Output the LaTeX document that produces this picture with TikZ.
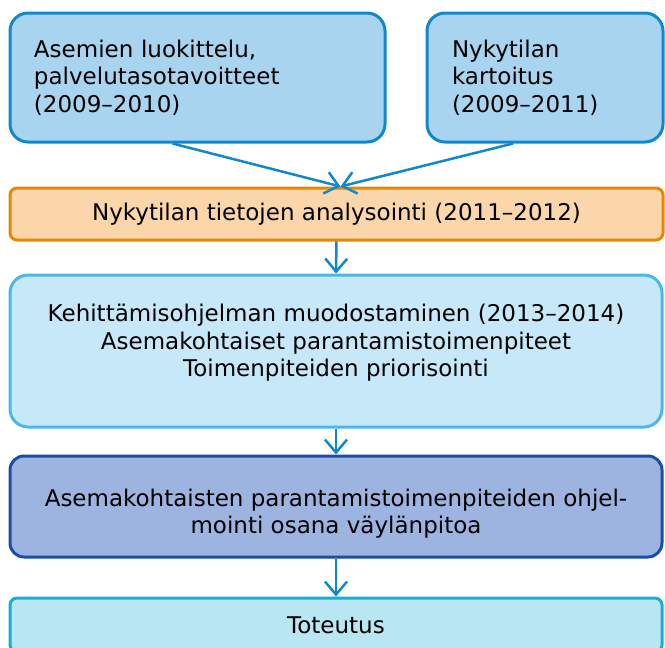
\documentclass[tikz,border=0pt]{standalone}
\usepackage{fontspec}
\setmainfont{DejaVu Sans}
\usepackage{xcolor}
\usetikzlibrary{arrows.meta, positioning, calc}
\definecolor{topfill}{RGB}{168,212,240}
\definecolor{topline}{RGB}{16,136,206}
\definecolor{orfill}{RGB}{250,214,170}
\definecolor{orline}{RGB}{232,136,0}
\definecolor{kefill}{RGB}{198,232,248}
\definecolor{keline}{RGB}{74,184,232}
\definecolor{ohfill}{RGB}{158,180,224}
\definecolor{ohline}{RGB}{24,78,168}
\definecolor{tofill}{RGB}{184,230,242}
\definecolor{toline}{RGB}{20,176,208}
\tikzset{
    box/.style={draw, line width=3pt, rounded corners=18pt, inner sep=0pt,
        font=\fontsize{23}{27.5}\selectfont},
    flatbox/.style={box, rounded corners=7pt},
    flow/.style={-{Straight Barb[length=13pt, width=22pt, line width=2.5pt]},
        line width=2.5pt, topline}
}
\begin{document}
\begin{tikzpicture}[x=1pt, y=-1pt]
    \useasboundingbox (0,0) rectangle (665,648);
    \clip (0,0) rectangle (665,648);
    % Input boxes
    \node[box, fill=topfill, draw=topline, minimum width=375pt, minimum height=129pt,
        text width=327pt, align=left] (luok) at (197.5,77.5)
        {Asemien luokittelu,\\palvelutasotavoitteet\\(2009–2010)};
    \node[box, fill=topfill, draw=topline, minimum width=236pt, minimum height=129pt,
        text width=186pt, align=left] (kart) at (545,77.5)
        {Nykytilan\\kartoitus\\(2009–2011)};
    % Analysis
    \node[flatbox, fill=orfill, draw=orline, minimum width=653pt, minimum height=52pt] (anal) at (336.5,214)
        {Nykytilan tietojen analysointi (2011–2012)};
    % Programme
    \node[box, fill=kefill, draw=keline, minimum width=652pt, minimum height=152pt, align=center] (kehi) at (336,351)
        {Kehittämisohjelman muodostaminen (2013–2014)\\Asemakohtaiset parantamistoimenpiteet\\Toimenpiteiden priorisointi\\[-7pt]\mbox{}};
    \node[box, rounded corners=14pt, fill=ohfill, draw=ohline, minimum width=652pt, minimum height=101pt, align=center] (ohje) at (336,506.5)
        {Asemakohtaisten parantamistoimenpiteiden ohjel-\\mointi osana väylänpitoa\\[-37pt]\mbox{}};
    \node[flatbox, fill=tofill, draw=toline, minimum width=652pt, minimum height=54pt] (tote) at (336,625)
        {Toteutus};
    % Connectors
    \draw[flow] ([xshift=-25pt]luok.south) -- ([xshift=4pt]anal.north);
    \draw[flow] ([xshift=-32pt]kart.south) -- ([xshift=4pt]anal.north);
    \draw[flow] (anal.south) -- (kehi.north);
    \draw[flow] (kehi.south) -- (ohje.north);
    \draw[flow] (ohje.south) -- (tote.north);
\end{tikzpicture}
\end{document}
